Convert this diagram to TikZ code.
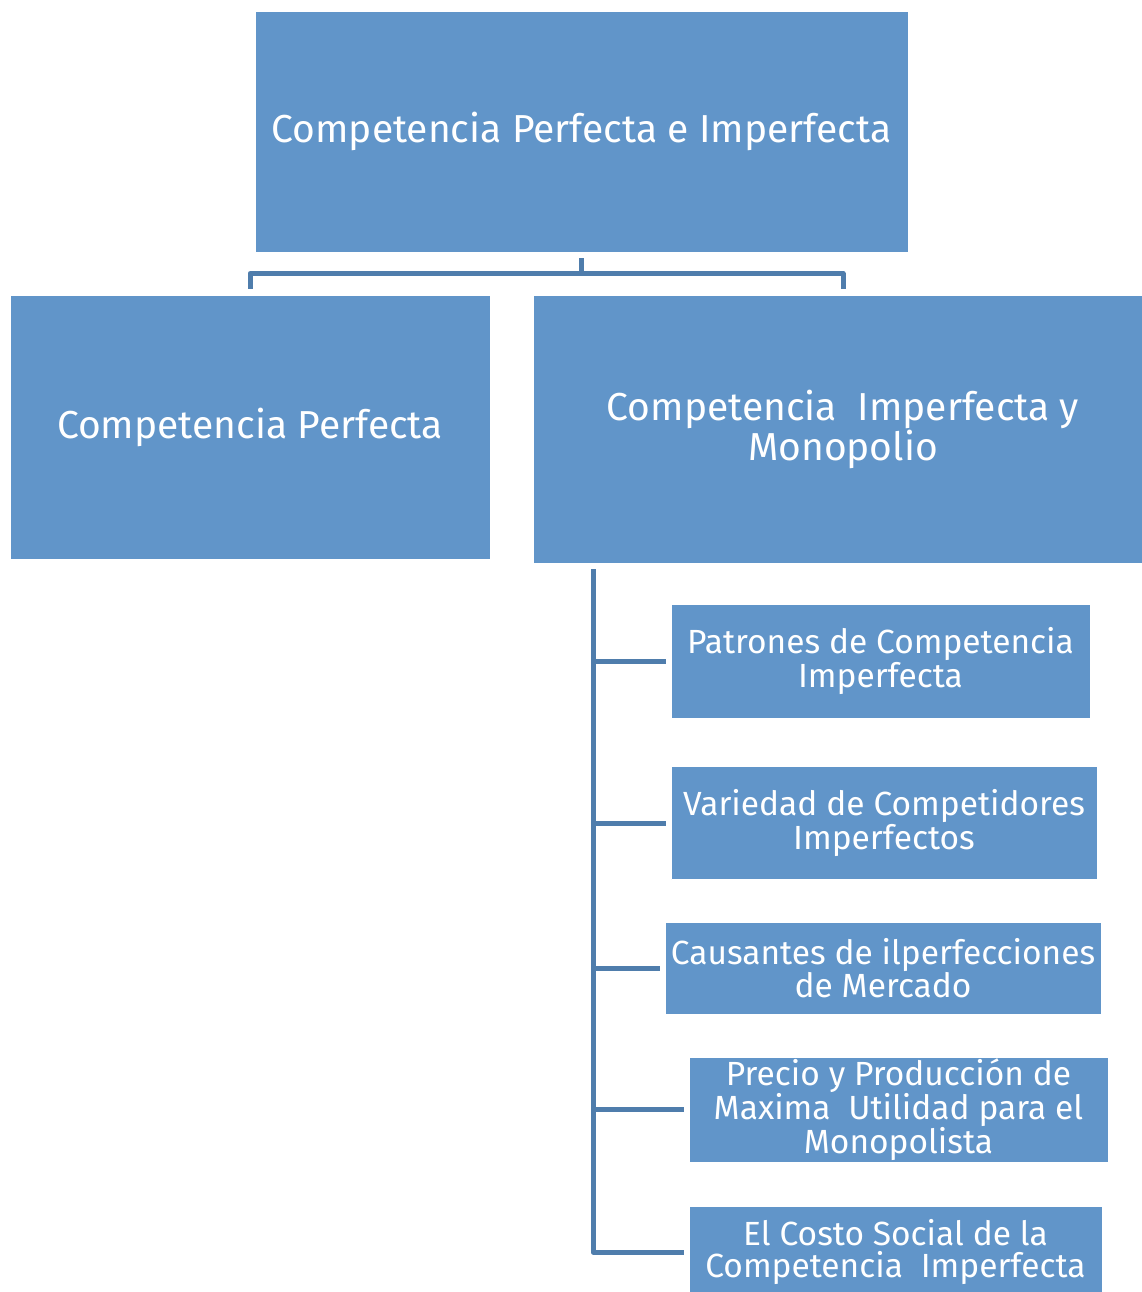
\documentclass[tikz,border=0pt]{standalone}
\usepackage{fontspec}
\setmainfont{Fira Sans}
\usetikzlibrary{positioning}
\definecolor{boxblue}{RGB}{97,149,201}
\definecolor{lineblue}{RGB}{79,125,172}
\tikzset{
  box/.style={fill=boxblue, draw=white, line width=0.8pt, text=white, align=center, inner sep=0pt},
  bigtext/.style={font=\fontsize{39}{40}\selectfont},
  smalltext/.style={font=\fontsize{33.5}{32}\selectfont},
  conn/.style={draw=lineblue, line width=5pt}
}
\begin{document}
\begin{tikzpicture}[x=1pt, y=-1pt, line join=round]
	\useasboundingbox (0,0) rectangle (1142,1292);
	% nivel superior
	\node[box, bigtext, minimum width=653pt, minimum height=241pt] (top) at (581.5,131.5) {Competencia Perfecta e Imperfecta};
	\node[box, bigtext, minimum width=480pt, minimum height=264pt] (perf) at (250,427) {Competencia Perfecta};
	\node[box, bigtext, minimum width=620pt, minimum height=268pt] (imperf) at (843,429) {Competencia\ \ Imperfecta y\\Monopolio};
	% subtemas
	\node[box, smalltext, minimum width=419pt, minimum height=114pt] (p1) at (880.5,661) {Patrones de Competencia\\Imperfecta};
	\node[box, smalltext, minimum width=426pt, minimum height=113pt] (p2) at (884,823) {Variedad de Competidores\\Imperfectos};
	\node[box, smalltext, minimum width=436pt, minimum height=92pt] (p3) at (883,968) {Causantes de ilperfecciones\\de Mercado};
	\node[box, smalltext, minimum width=419pt, minimum height=105pt] (p4) at (898.5,1109.5) {Precio y Producción de\\Maxima\ \ Utilidad para el\\Monopolista};
	\node[box, smalltext, minimum width=413pt, minimum height=92pt] (p5) at (895.5,1252) {El Costo Social de la\\Competencia\ \ Imperfecta};
	% conectores
	\draw[conn] ([yshift=-6pt]top.south) -- ++(0,15) -| ([yshift=6pt]perf.north);
	\draw[conn] ([yshift=-6pt]top.south) -- ++(0,15) -| ([yshift=6pt]imperf.north);
	\coordinate (trunk) at (593,569);
	\draw[conn] (trunk) |- ([xshift=-5pt]p5.west);
	\foreach \n in {p1,p2,p3,p4}
		\draw[conn] (trunk |- \n.west) -- ([xshift=-5pt]\n.west);
\end{tikzpicture}
\end{document}
